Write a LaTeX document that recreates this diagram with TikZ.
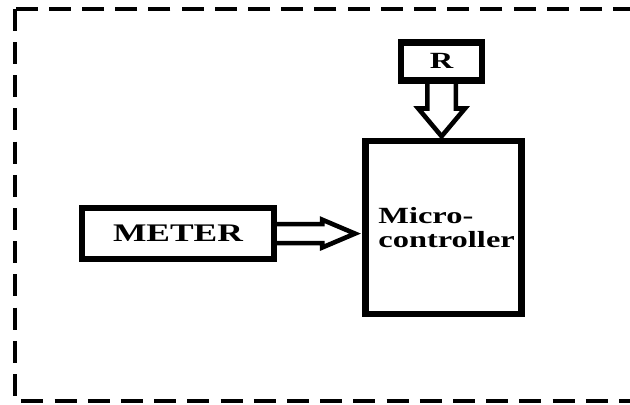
\documentclass[tikz,border=0pt]{standalone}
\usepackage{fontspec}
\setmainfont{Liberation Serif}
\usetikzlibrary{arrows.meta,positioning,calc,shapes.arrows}
\newcommand{\wide}[1]{\scalebox{1.4}[1]{#1}}

\begin{document}
\begin{tikzpicture}[
  block/.style={draw, line width=1.6mm, inner sep=0pt, outer sep=0pt, align=left, font=\bfseries\fontsize{16.5}{17}\selectfont},
  hollow/.style={single arrow, draw, line width=1.15mm, inner xsep=0pt, outer sep=0pt, single arrow head indent=0pt}]
  \clip (0,0) rectangle (157.5mm,-101.25mm);
  \draw[line width=1mm, dash pattern=on 5.5mm off 2.8mm] (3.8mm,-2.2mm) rectangle (170mm,-100.25mm);
  \node[block, minimum width=48mm, minimum height=12.75mm, font=\bfseries\fontsize{18}{18}\selectfont] (meter) at (44.5mm,-58.4mm) {\wide{METER}};
  \node[block, minimum width=39mm, minimum height=43.25mm, right=22.9mm of meter, yshift=1.6mm] (mc) {\hspace*{1.5mm}\wide{Micro-}\\\hspace*{1.5mm}\wide{controller}};
  \node[block, minimum width=20.25mm, minimum height=9.5mm, above=15.1mm of mc, xshift=-0.5mm] (r) {\wide{R}};
  % double arrows
  \node[hollow, anchor=tail, minimum height=20.25mm, inner ysep=1.8mm, single arrow head extend=1.1mm, single arrow tip angle=46] at (meter.east) {};
  \node[hollow, anchor=tail, rotate=-90, minimum height=14mm, inner ysep=3mm, single arrow head extend=2.25mm, single arrow tip angle=80] at (r.south) {};
\end{tikzpicture}
\end{document}
